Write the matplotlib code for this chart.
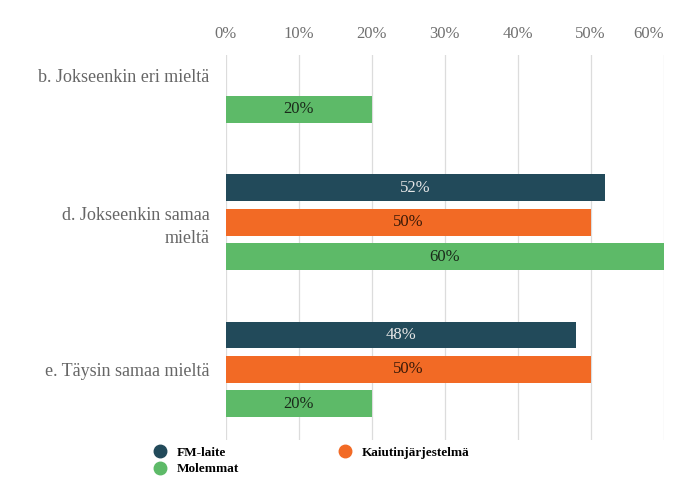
import matplotlib
matplotlib.use("Agg")
import matplotlib.pyplot as plt
from matplotlib.lines import Line2D
import numpy as np

categories = ["b. Jokseenkin eri mieltä", "d. Jokseenkin samaa\nmieltä", "e. Täysin samaa mieltä"]
series_names = ["FM-laite", "Kaiutinjärjestelmä", "Molemmat"]
fm = [0, 52, 48]
kaiutin = [0, 50, 50]
molemmat = [20, 60, 20]
xticks = [0, 10, 20, 30, 40, 50, 60]
xtick_labels = ["0%", "10%", "20%", "30%", "40%", "50%", "60%"]

colors = ["#224a5a", "#f26a25", "#5dba68"]
label_colors = ["#e6e6e6", "#3b1a08", "#1a2a1a"]

plt.rcParams['font.family'] = ['Liberation Serif', 'DejaVu Serif']

fig = plt.figure(figsize=(6.74, 4.96), dpi=100)
ax = fig.add_axes([226/674, 1-440/496, (663.7-226)/674, (440-55)/496])

y = np.arange(len(categories))
offsets = [-0.234, 0.0, 0.234]
h = 0.181
for vals, off, c, lc in zip([fm, kaiutin, molemmat], offsets, colors, label_colors):
    bars = ax.barh(y + off, vals, height=h, color=c, zorder=3)
    for b, v in zip(bars, vals):
        if v > 0:
            ax.text(v/2, b.get_y() + b.get_height()/2, f"{v}%", ha="center", va="center",
                    color=lc, fontsize=12, zorder=4)

ax.set_xlim(0, 60)
ax.set_ylim(2.48, -0.136)
ax.set_xticks(xticks)
ax.set_xticklabels(xtick_labels)
ax.xaxis.tick_top()
ax.tick_params(axis="x", length=0, pad=9, labelsize=12, labelcolor="#707070")
ax.get_xticklabels()[-1].set_horizontalalignment("right")
ax.set_yticks(y)
ax.set_yticklabels(categories, fontsize=13, color="#666666")
for t in ax.get_yticklabels():
    t.set_linespacing(1.45)
ax.tick_params(axis="y", length=0, pad=12)
for s in ax.spines.values():
    s.set_visible(False)
ax.grid(axis="x", color="#dcdcdc", linewidth=0.9, zorder=0)
ax.set_axisbelow(True)

handles = [Line2D([], [], marker="o", linestyle="", markersize=9, color=colors[0]),
           Line2D([], [], marker="o", linestyle="", markersize=9, color=colors[2]),
           Line2D([], [], marker="o", linestyle="", markersize=9, color=colors[1])]
labels = [series_names[0], series_names[2], series_names[1]]
fig.legend(handles, labels, ncol=2, loc="upper left", bbox_to_anchor=(142/674, 1-435/496),
           frameon=False, prop={"weight": "bold", "size": 9.5}, columnspacing=7.5,
           handletextpad=0.75, labelspacing=0.3, handlelength=1.0)

fig.savefig("out.png", dpi=100)
